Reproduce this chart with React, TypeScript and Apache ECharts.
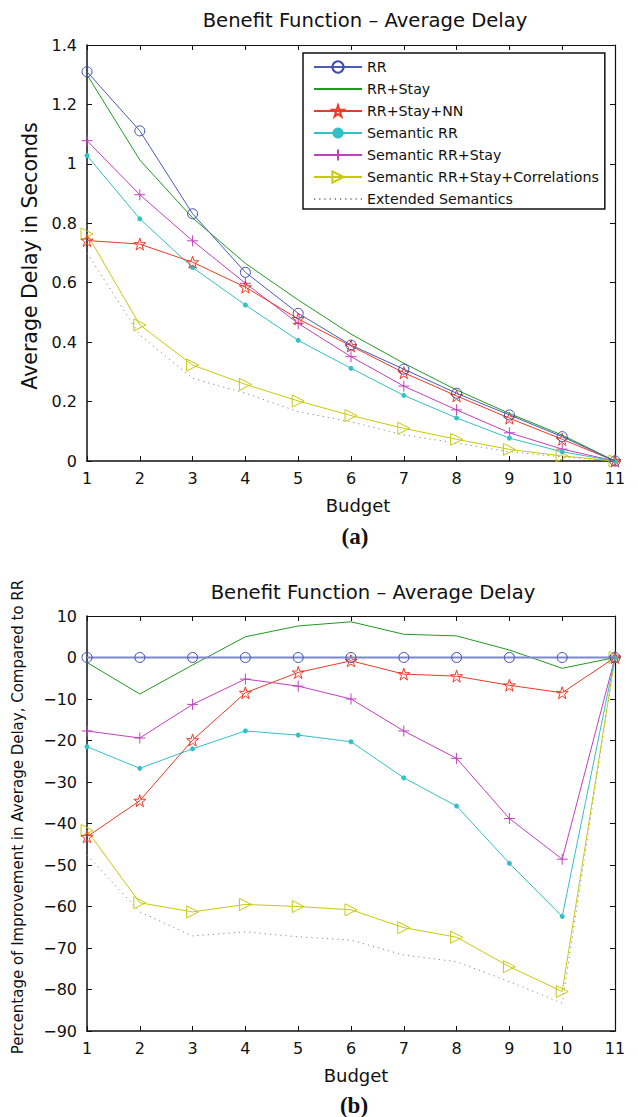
import React, { useEffect, useRef } from "react";
import * as echarts from "echarts";

const budget = [1, 2, 3, 4, 5, 6, 7, 8, 9, 10, 11];
const seriesNames = [
  "RR",
  "RR+Stay",
  "RR+Stay+NN",
  "Semantic RR",
  "Semantic RR+Stay",
  "Semantic RR+Stay+Correlations",
  "Extended Semantics",
];
const delayTicks = [0, 0.2, 0.4, 0.6, 0.8, 1, 1.2, 1.4];
const pctTicks = [-90, -80, -70, -60, -50, -40, -30, -20, -10, 0, 10];

// (a) Average delay in seconds
const delayRR = [1.31, 1.111, 0.832, 0.635, 0.497, 0.39, 0.309, 0.228, 0.155, 0.082, 0];
const delayRRStay = [1.3, 1.013, 0.818, 0.665, 0.542, 0.427, 0.329, 0.239, 0.16, 0.087, 0];
const delayRRStayNN = [0.742, 0.73, 0.669, 0.585, 0.478, 0.387, 0.297, 0.219, 0.144, 0.073, 0];
const delaySemRR = [1.028, 0.815, 0.651, 0.525, 0.406, 0.312, 0.221, 0.145, 0.077, 0.031, 0];
const delaySemRRStay = [1.078, 0.896, 0.741, 0.598, 0.463, 0.351, 0.252, 0.172, 0.095, 0.04, 0];
const delaySemCorr = [0.764, 0.458, 0.323, 0.258, 0.202, 0.153, 0.11, 0.073, 0.039, 0.017, 0];
const delayExt = [0.7, 0.424, 0.278, 0.228, 0.166, 0.132, 0.088, 0.06, 0.031, 0.014, 0];

// (b) Percentage of improvement compared to RR
const pctRR = [0, 0, 0, 0, 0, 0, 0, 0, 0, 0, 0];
const pctRRStay = [-1.2, -8.8, -1.8, 5.0, 7.6, 8.6, 5.6, 5.2, 1.8, -2.6, 0];
const pctRRStayNN = [-43.2, -34.5, -19.9, -8.5, -3.6, -0.8, -4.0, -4.5, -6.7, -8.5, 0];
const pctSemRR = [-21.5, -26.7, -22.0, -17.7, -18.7, -20.3, -29.0, -35.8, -49.6, -62.4, 0];
const pctSemRRStay = [-17.7, -19.4, -11.3, -5.2, -6.9, -10.0, -17.7, -24.3, -38.8, -48.6, 0];
const pctSemCorr = [-41.7, -59.1, -61.3, -59.5, -60.0, -60.8, -65.1, -67.4, -74.5, -80.5, 0];
const pctExt = [-47.6, -61.3, -67.1, -66.1, -67.3, -68.1, -71.7, -73.3, -78.1, -83.3, 0];

const FONT = "DejaVu Sans";
const STAR =
  "path://M10 0 L12.245 6.91 L19.51 6.91 L13.63 11.18 L15.88 18.09 L10 13.82 L4.12 18.09 L6.37 11.18 L0.49 6.91 L7.755 6.91 Z";
const TRI = "path://M0 0 L10 5 L0 10 Z";
const PLUS = "path://M5 0 L5 10 M0 5 L10 5";

const styles = [
  { color: "#3d4db0", symbol: "circle", size: 10, hollow: true },
  { color: "#1f9a1f", symbol: "none", size: 0, hollow: false },
  { color: "#ee3a26", symbol: STAR, size: 12, hollow: true },
  { color: "#33c0c6", symbol: "circle", size: 5, hollow: false },
  { color: "#c23fbe", symbol: PLUS, size: 11, hollow: true },
  { color: "#c9c90c", symbol: TRI, size: 12, hollow: true },
  { color: "#8a8a8a", symbol: "none", size: 0, hollow: false },
];

function makeSeries(values: number[][], axis: number, bottom: boolean) {
  return values.map((vals, i) => {
    const s = styles[i];
    const isRR = i === 0;
    const lineColor = isRR && bottom ? "#7c87cc" : isRR ? "#4a5ab8" : s.color;
    return {
      type: "line",
      name: seriesNames[i],
      xAxisIndex: axis,
      yAxisIndex: axis,
      data: budget.map((b, k) => [b, vals[k]]),
      symbol: s.symbol,
      symbolSize: s.size,
      showSymbol: s.symbol !== "none",
      clip: false,
      lineStyle: {
        color: lineColor,
        width: isRR && bottom ? 2.2 : 1,
        type: i === 6 ? [1.2, 4] : "solid",
      },
      itemStyle: s.hollow
        ? { color: "rgba(0,0,0,0)", borderColor: s.color, borderWidth: 1 }
        : { color: s.color, borderWidth: 0 },
      emphasis: { disabled: true },
      z: 2 + (6 - i),
    };
  });
}

function axisPair(gridIndex: number, min: number, max: number, interval: number, isY: boolean, fmt?: (v: number) => string) {
  const common = {
    type: "value",
    gridIndex,
    min,
    max,
    interval,
    splitLine: { show: false },
    axisLine: { show: true, onZero: false, lineStyle: { color: "#111", width: 1.5 } },
    axisTick: { show: true, inside: true, length: 5, lineStyle: { color: "#111", width: 1 } },
  };
  return [
    {
      ...common,
      position: isY ? "left" : "bottom",
      axisLabel: {
        show: true,
        margin: isY ? 10 : 9,
        color: "#111",
        fontFamily: FONT,
        fontSize: 16,
        formatter: fmt,
      },
    },
    {
      ...common,
      position: isY ? "right" : "top",
      axisLine: { show: true, onZero: false, lineStyle: { color: "#111", width: 1.2 } },
      axisLabel: { show: false },
    },
  ];
}

function txt(text: string, x: number, y: number, size: number, opts: any = {}) {
  return {
    type: "text",
    x,
    y,
    rotation: opts.rotation || 0,
    style: {
      text,
      x: 0,
      y: 0,
      fill: "#111",
      font: `${opts.bold ? "bold " : ""}${size}px "${opts.family || FONT}"`,
      textAlign: "center",
      textVerticalAlign: "middle",
    },
  };
}

export default function App() {
  const ref = useRef<HTMLDivElement>(null);
  useEffect(() => {
    document.body.style.margin = "0";
    if (!ref.current) return;
    const chart = echarts.init(ref.current, undefined, { renderer: "svg" });
    const fmtDelay = (v: number) => String(Math.round(v * 10) / 10);
    const fmtPct = (v: number) => (v < 0 ? "\u2212" + Math.abs(v) : String(v));
    const [x0, x1] = axisPair(0, 1, 11, 1, false);
    const [x2, x3] = axisPair(1, 1, 11, 1, false);
    const [y0, y1] = axisPair(0, delayTicks[0], delayTicks[delayTicks.length - 1], 0.2, true, fmtDelay);
    const [y2, y3] = axisPair(1, pctTicks[0], pctTicks[pctTicks.length - 1], 10, true, fmtPct);
    const legendData = seriesNames.map((name, i) =>
      styles[i].symbol === "none"
        ? { name, itemStyle: { color: "rgba(0,0,0,0)", borderWidth: 0, opacity: 0 } }
        : { name }
    );
    const option: any = {
      animation: false,
      backgroundColor: "#ffffff",
      grid: [
        { left: 87, top: 45, width: 528, height: 416 },
        { left: 87, top: 616, width: 528, height: 415 },
      ],
      xAxis: [x0, x1, x2, x3],
      yAxis: [y0, y1, y2, y3],
      legend: {
        data: legendData,
        orient: "vertical",
        left: 303,
        top: 53,
        padding: [7, 6, 3, 10],
        itemWidth: 48,
        itemHeight: 14,
        itemGap: 8,
        borderColor: "#111",
        borderWidth: 1.5,
        backgroundColor: "#ffffff",
        selectedMode: false,
        textStyle: { fontFamily: FONT, fontSize: 14.2, color: "#111", lineHeight: 14 },
      },
      series: [
        ...makeSeries(
          [delayRR, delayRRStay, delayRRStayNN, delaySemRR, delaySemRRStay, delaySemCorr, delayExt],
          0,
          false
        ),
        ...makeSeries(
          [pctRR, pctRRStay, pctRRStayNN, pctSemRR, pctSemRRStay, pctSemCorr, pctExt],
          2,
          true
        ).map((s: any) => ({ ...s, xAxisIndex: 2, yAxisIndex: 2 })),
      ],
      graphic: [
        txt("Benefit Function \u2013 Average Delay", 365, 20, 19.6),
        txt("Average Delay in Seconds", 30, 256, 20.5, { rotation: Math.PI / 2 }),
        txt("Budget", 358, 505, 18),
        txt("(a)", 355, 536, 23, { bold: true, family: "Liberation Serif" }),
        txt("Benefit Function \u2013 Average Delay", 373, 592, 19.6),
        txt("Percentage of Improvement in Average Delay, Compared to RR", 18, 817, 15, {
          rotation: Math.PI / 2,
        }),
        txt("Budget", 356, 1075, 18),
        txt("(b)", 354, 1105, 23, { bold: true, family: "Liberation Serif" }),
      ],
    };
    chart.setOption(option);
    return () => chart.dispose();
  }, []);
  return <div ref={ref} style={{ width: 638, height: 1117 }} />;
}
